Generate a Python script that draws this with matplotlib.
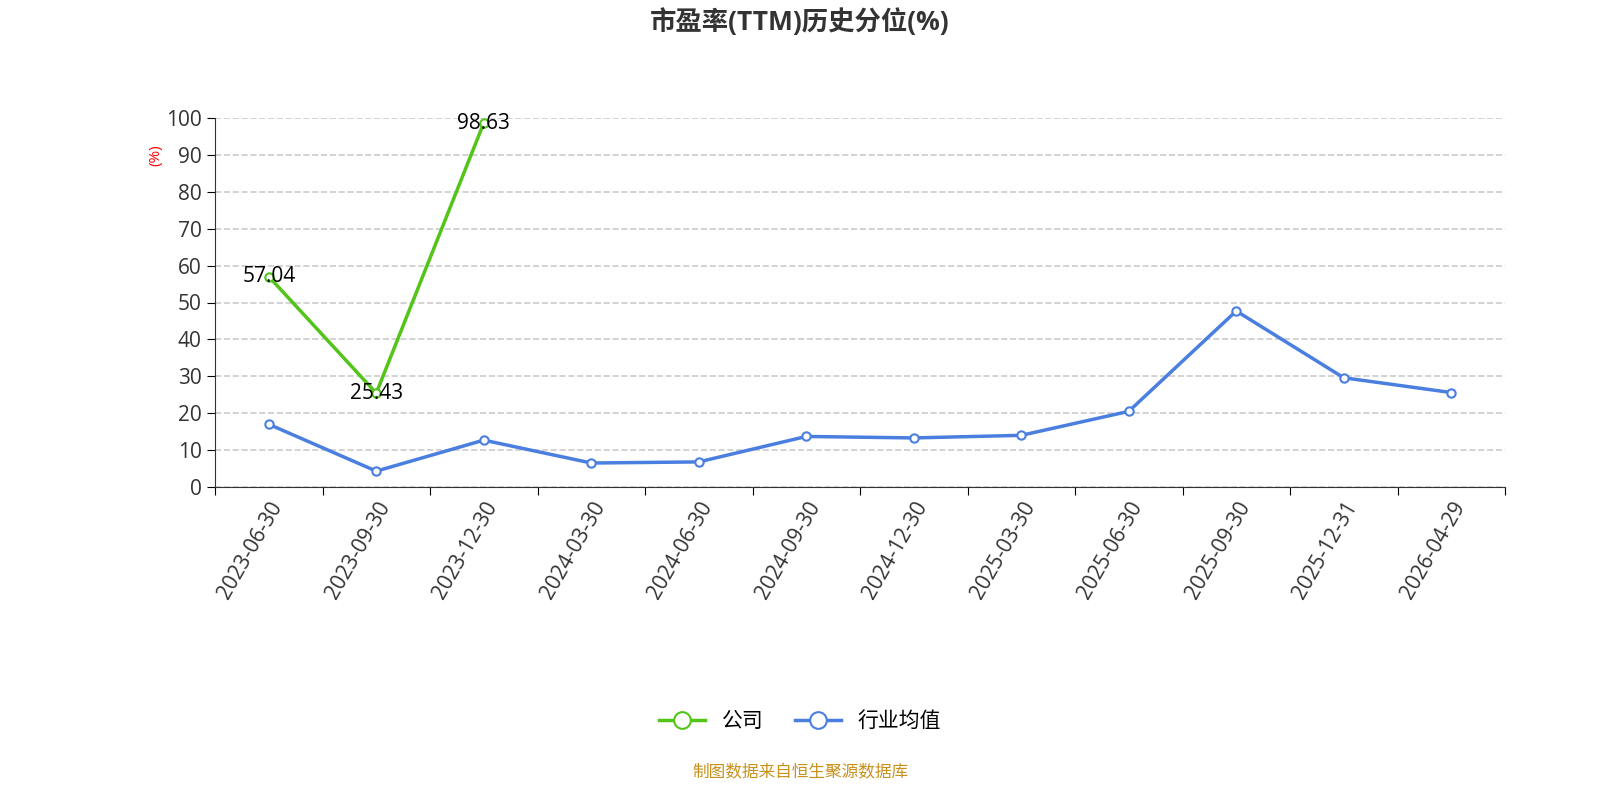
import matplotlib
matplotlib.use("Agg")
import matplotlib.pyplot as plt

plt.rcParams['font.family'] = ['Open Sans', 'Noto Sans CJK SC', 'DejaVu Sans']

dates = ["2023-06-30","2023-09-30","2023-12-30","2024-03-30","2024-06-30","2024-09-30",
         "2024-12-30","2025-03-30","2025-06-30","2025-09-30","2025-12-31","2026-04-29"]
company = [57.04, 25.43, 98.63]
industry = [17.0, 4.3, 12.7, 6.5, 6.8, 13.7, 13.3, 14.0, 20.5, 47.7, 29.6, 25.6]

fig = plt.figure(figsize=(16, 8), dpi=100)
ax = fig.add_axes([215/1600, 1-487/800, 1290/1600, 369/800])
xs = [i + 0.5 for i in range(len(dates))]
green = '#52c41a'; blue = '#4a7fe0'
ax.plot(xs[:len(company)], company, color=green, lw=2.5, marker='o', ms=6,
        mfc='white', mec=green, mew=1.5, label='公司', zorder=3)
ax.plot(xs, industry, color=blue, lw=2.5, marker='o', ms=6,
        mfc='white', mec=blue, mew=1.5, label='行业均值', zorder=3)
for x, v in zip(xs, company):
    ax.text(x, v, f"{v:.2f}", ha='center', va='center', fontsize=15, color='black')

ax.set_xlim(0, len(dates))
ax.set_ylim(0, 100)
ax.set_yticks(range(0, 101, 10))
ax.set_xticks(range(len(dates) + 1))
ax.set_xticklabels([])
ax.set_xticks(xs, minor=True)
ax.set_xticklabels(dates, minor=True, rotation=60, ha='right', rotation_mode='anchor', fontsize=15, color='#333333')
ax.tick_params(axis='x', which='minor', length=0, pad=8)
ax.tick_params(axis='x', which='major', length=6)
ax.tick_params(axis='y', labelsize=15, labelcolor='#333333', length=6)
ax.grid(axis='y', ls='--', color='#cccccc', lw=1.2)
for s in ['top', 'right']:
    ax.spines[s].set_visible(False)
ax.spines['bottom'].set_color('#333333')
ax.spines['left'].set_color('#333333')
ax.text(-0.55, 90, '(%)', color='red', fontsize=11, rotation=90, ha='center', va='center')

fig.text(0.5, 0.972, '市盈率(TTM)历史分位(%)', ha='center', va='center', fontsize=19, fontweight='bold', color='#333333')
fig.legend(loc='center', bbox_to_anchor=(0.5, 0.098), ncol=2, frameon=False, fontsize=15,
           markerscale=2.0, handlelength=2.2, columnspacing=1.5)
fig.text(0.5, 0.034, '制图数据来自恒生聚源数据库', ha='center', va='center', fontsize=12, color='#c8901c')
fig.savefig('out.png')
